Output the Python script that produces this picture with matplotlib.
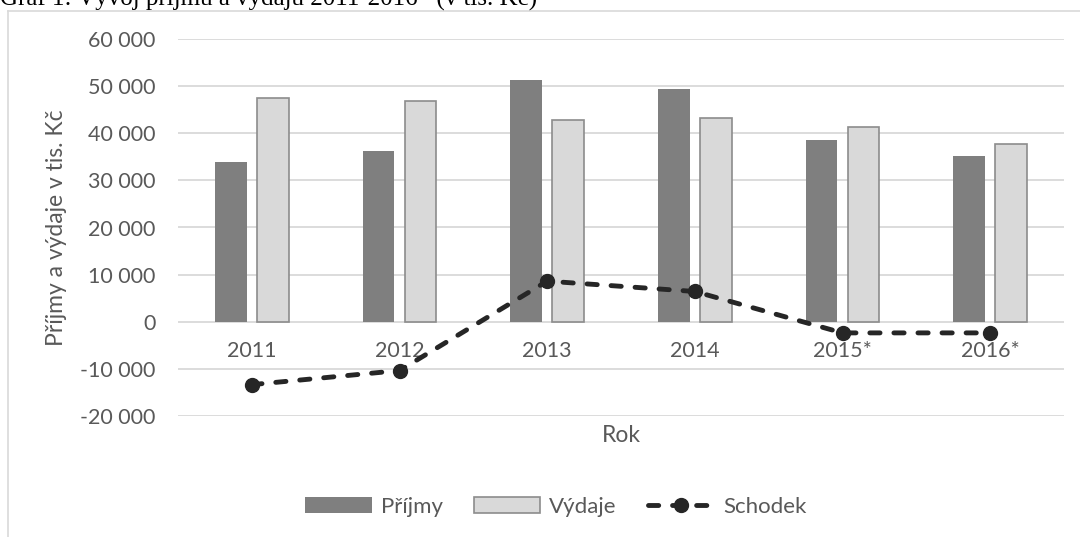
import numpy as np
import matplotlib
matplotlib.use('Agg')
import matplotlib.pyplot as plt
from matplotlib.lines import Line2D
from matplotlib.ticker import FuncFormatter

# Data (tis. Kč)
roky = ['2011', '2012', '2013', '2014', '2015*', '2016*']
prijmy = [34000, 36200, 51400, 49400, 38700, 35100]
vydaje = [47500, 46800, 42800, 43300, 41300, 37700]
schodek = [-13400, -10400, 8600, 6400, -2400, -2400]

plt.rcParams['font.family'] = ['Lato', 'DejaVu Sans']
txt = '#595959'

fig = plt.figure(figsize=(10.8, 5.37), dpi=100)
ax = fig.add_axes([178/1080, 1 - 415.7/537, 886/1080, 376.4/537])

x = np.arange(len(roky))
w = 0.216
off = 0.142
b1 = ax.bar(x - off, prijmy, w, color='#7f7f7f', label='Příjmy', zorder=2)
b2 = ax.bar(x + off, vydaje, w, color='#d9d9d9', edgecolor='#8c8c8c', linewidth=1.2,
            label='Výdaje', zorder=2)
l1, = ax.plot(x, schodek, color='#262626', lw=3.5, linestyle=(0, (2.1, 2.85)),
              dash_capstyle='round', marker='o', markersize=10, label='Schodek', zorder=3)

ax.set_ylim(-20000, 60000)
ax.set_xlim(-0.5, len(roky) - 0.5)
ax.set_yticks(np.arange(-20000, 60001, 10000))
ax.yaxis.set_major_formatter(FuncFormatter(lambda v, p: f'{int(v):,}'.replace(',', ' ')))
ax.grid(axis='y', color='#d9d9d9', lw=1.3, zorder=0)
ax.set_axisbelow(True)
for s in ax.spines.values():
    s.set_visible(False)
ax.spines['bottom'].set_position(('data', 0))
ax.set_xticks(x)
ax.set_xticklabels(roky)
ax.tick_params(axis='both', length=0, labelsize=15.5, labelcolor=txt)
ax.tick_params(axis='x', pad=14)
ax.tick_params(axis='y', pad=16)

ax.set_ylabel('Příjmy a výdaje v tis. Kč', fontsize=16.5, color=txt, labelpad=10)
fig.text(621/1080, 1 - 436/537, 'Rok', fontsize=16.5, color=txt, ha='center', va='center')

fig.legend([b1, b2, l1], ['Příjmy', 'Výdaje', 'Schodek'], loc='center',
           bbox_to_anchor=(556/1080, 1 - 507/537), ncol=3, frameon=False,
           fontsize=16, handlelength=3.0, handletextpad=0.4, columnspacing=1.4,
           labelcolor=txt)

# chart frame (cropped) and caption
fig.add_artist(Line2D([8/1080, 1], [1 - 11/537, 1 - 11/537], color='#d9d9d9', lw=1.2))
fig.add_artist(Line2D([8/1080, 8/1080], [0, 1 - 11/537], color='#d9d9d9', lw=1.2))
fig.text(0, 1 - 6/537, 'Graf 1: Vývoj příjmů a výdajů 2011-2016* (v tis. Kč)',
         family='Liberation Serif', fontsize=18, color='black', ha='left', va='baseline')

fig.savefig('out.png', dpi=100)
